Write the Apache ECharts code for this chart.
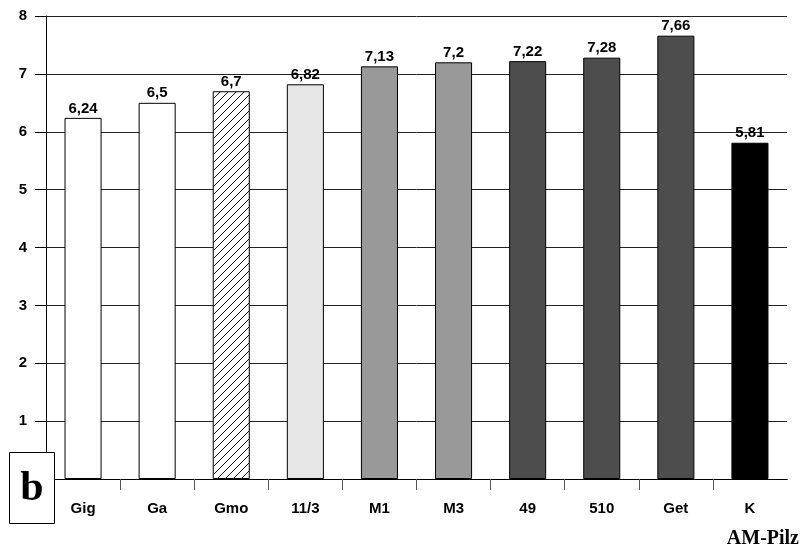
<!DOCTYPE html>
<html><head><meta charset="utf-8">
<script src="https://cdn.jsdelivr.net/npm/echarts@6/dist/echarts.min.js"></script>
<style>html,body{margin:0;padding:0;background:#fff}#c{width:801px;height:551px}</style>
</head><body><div id="c"></div>
<script>
const categories = ['Gig','Ga','Gmo','11/3','M1','M3','49','510','Get','K'];
const values = [6.24, 6.5, 6.7, 6.82, 7.13, 7.2, 7.22, 7.28, 7.66, 5.81];
const yTicks = [0,1,2,3,4,5,6,7,8];

// hatch pattern
const pc = document.createElement('canvas');
pc.width = 8; pc.height = 8;
const g = pc.getContext('2d');
g.fillStyle = '#fff'; g.fillRect(0,0,8,8);
g.strokeStyle = '#000'; g.lineWidth = 0.9;
g.beginPath();
g.moveTo(0,8); g.lineTo(8,0);
g.moveTo(-4,4); g.lineTo(4,-4);
g.moveTo(4,12); g.lineTo(12,4);
g.stroke();

const fills = ['#ffffff','#ffffff',{image: pc, repeat:'repeat'},'#e6e6e6','#999999','#999999','#4d4d4d','#4d4d4d','#4d4d4d','#000000'];
const FONT = 'Liberation Sans, Arial, Helvetica';

const chart = echarts.init(document.getElementById('c'), null, {renderer:'canvas'});
chart.setOption({
  animation:false,
  grid:{left:46,right:14,top:16,bottom:72},
  xAxis:{type:'category',data:categories,
    axisLine:{lineStyle:{color:'#000',width:1}},
    axisTick:{show:true,length:11,lineStyle:{color:'#555'}},
    axisLabel:{color:'#000',fontFamily:FONT,fontWeight:'bold',fontSize:15,margin:22},
    splitLine:{show:false}},
  yAxis:{type:'value',min:yTicks[0],max:yTicks[yTicks.length-1],interval:1,
    axisLine:{show:true,lineStyle:{color:'#000',width:1}},
    axisTick:{show:true,length:11,lineStyle:{color:'#000'}},
    axisLabel:{color:'#000',fontFamily:FONT,fontWeight:'bold',fontSize:15,margin:19},
    splitLine:{show:true,lineStyle:{color:'#222',width:1}}},
  series:[{type:'bar',barWidth:'50%',
    data:values.map((v,i)=>({value:v,itemStyle:{color:fills[i],borderColor:'#000',borderWidth:1}})),
    label:{show:true,position:'top',distance:2,color:'#000',fontFamily:FONT,fontWeight:'bold',fontSize:15,
      formatter:p=>String(p.value).replace('.',',')}
  }],
  graphic:[
    {type:'rect',shape:{x:784,y:480,width:8,height:14},style:{fill:'#fff'},z:100},
    {type:'rect',shape:{x:9.5,y:452.5,width:45,height:71},style:{fill:'#fff',stroke:'#000',lineWidth:1},z:100},
    {type:'text',x:32,y:489,z:101,style:{text:'b',font:'bold 42px "Liberation Serif", "Times New Roman", serif',fill:'#000',textAlign:'center',textVerticalAlign:'middle'}},
    {type:'text',x:799,y:539,z:101,style:{text:'AM-Pilz',font:'bold 20px "Liberation Serif", "Times New Roman", serif',fill:'#000',textAlign:'right',textVerticalAlign:'middle'}}
  ]
});
</script></body></html>
